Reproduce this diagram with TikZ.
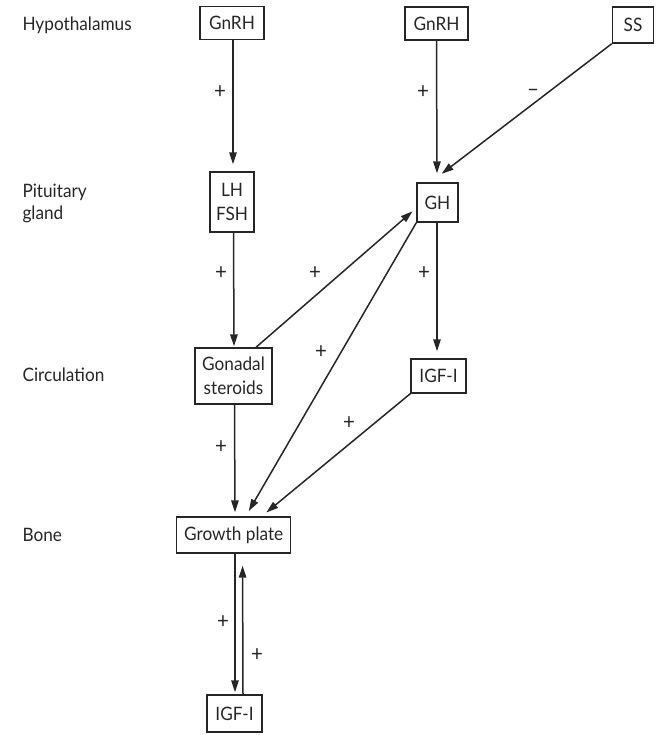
\documentclass[tikz,border=0pt]{standalone}
\usepackage{fontspec}
\setmainfont{Lato}[FakeStretch=0.93]
\usetikzlibrary{arrows.meta,calc}
\definecolor{ink}{HTML}{262626}
\begin{document}
\begin{tikzpicture}[x=1pt,y=-1pt,
  every node/.style={text=ink},
  box/.style={draw=ink, line width=1.4pt, inner sep=0pt, align=center,
    font=\fontsize{18.5}{24}\selectfont},
  lbl/.style={anchor=west, align=left, font=\fontsize{18.5}{22}\selectfont},
  sign/.style={font=\fontsize{22}{22}\selectfont},
  arr/.style={draw=ink, line width=1.5pt, -{Triangle[length=12pt,width=7.5pt]}}]
\useasboundingbox (0,0) rectangle (663,735);

% level labels
\node[lbl] (hyp) at (19,25) {Hypothalamus};
\node[lbl] (pit) at (19,203) {Pituitary\\gland};
\node[lbl] (circ) at (19,375) {Circulation};
\node[lbl] (bone) at (19,535) {Bone};

% boxes
\node[box, minimum width=64pt, minimum height=33pt] (gnrh1) at (232,23) {GnRH};
\node[box, minimum width=63pt, minimum height=33pt] (gnrh2) at (436.5,23.5) {GnRH};
\node[box, minimum width=41pt, minimum height=36pt] (ss) at (633,25) {SS};
\node[box, minimum width=44pt, minimum height=60pt] (lhfsh) at (232,202) {LH\\FSH};
\node[box, minimum width=41pt, minimum height=39pt] (gh) at (437.5,202.5) {GH};
\node[box, minimum width=77pt, minimum height=56pt] (gon) at (233.5,376) {Gonadal\\steroids};
\node[box, minimum width=55pt, minimum height=34pt] (igfa) at (438.5,376) {IGF-I};
\node[box, minimum width=114pt, minimum height=36pt] (gp) at (233.7,535) {Growth plate};
\node[box, minimum width=55pt, minimum height=37pt] (igfb) at (234.5,713.5) {IGF-I};

% connectors
\draw[arr, shorten >=7pt] ($(gnrh1.south)+(1,0)$) -- ($(lhfsh.north)+(1,0)$);
\draw[arr, shorten >=9pt] (gnrh2.south) -- ($(gh.north)+(-0.5,0)$);
\draw[arr, shorten >=14pt] (ss.south west) -- ($(gh.north)+(-7,0)$);
\draw[arr, shorten >=1pt] ($(lhfsh.south)+(1.5,0)$) -- ($(gon.north)+(0.5,0)$);
\draw[arr, shorten >=5pt] ($(gon.north)+(22.5,0)$) -- ($(gh.west)+(0,5.5)$);
\draw[arr, shorten >=7pt] ($(gh.south)+(-0.5,0)$) -- ($(igfa.north)+(-1.5,0)$);
\draw[arr, shorten >=6pt] (gh.south west) -- ($(gp.north)+(12,0)$);
\draw[arr, shorten >=6pt] (igfa.south west) -- ($(gp.north)+(28,0)$);
\draw[arr, shorten >=4pt] ($(gon.south)+(1,0)$) -- ($(gp.north)+(1.3,0)$);
\draw[arr, shorten >=2pt] ($(gp.south)+(1.3,0)$) -- ($(igfb.north)+(0.5,0)$);
\draw[arr, shorten >=12pt] ($(igfb.north)+(8.5,0)$) -- ($(gp.south)+(8.8,0)$);

% signs
\node[sign] (s1) at (220,92) {+};
\node[sign] (s2) at (423,92) {+};
\node[sign] (s3) at (533,93) {–};
\node[sign] (s4) at (221,273) {+};
\node[sign] (s5) at (315,273) {+};
\node[sign] (s6) at (424,273) {+};
\node[sign] (s7) at (321,352) {+};
\node[sign] (s8) at (349,423) {+};
\node[sign] (s9) at (221,447) {+};
\node[sign] (s10) at (223,622) {+};
\node[sign] (s11) at (257,655) {+};
\end{tikzpicture}
\end{document}
